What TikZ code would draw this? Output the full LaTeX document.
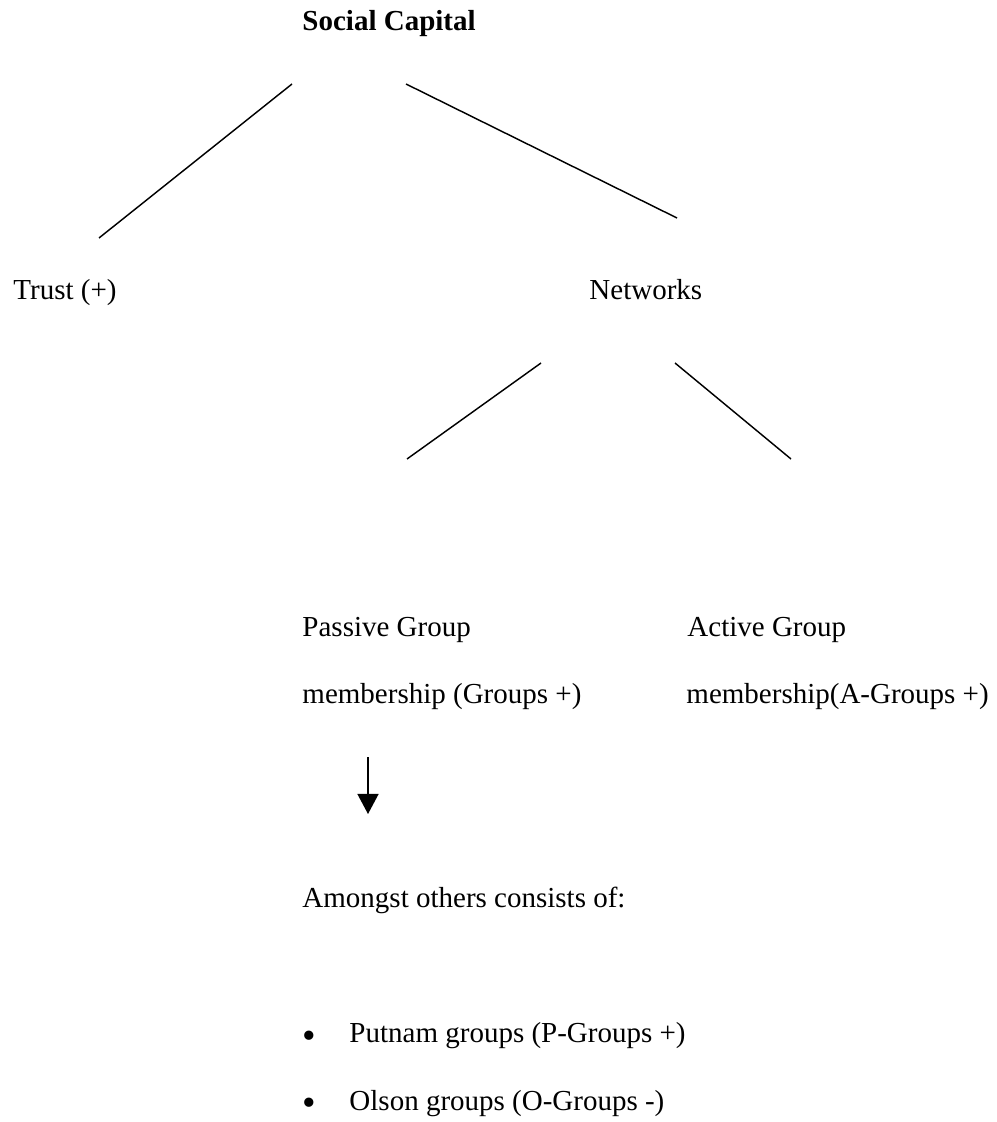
\documentclass[tikz,border=0pt]{standalone}
\usepackage{fontspec}
\setmainfont{Liberation Serif}
\usetikzlibrary{arrows.meta}
\tikzset{
    treeLabel/.style={anchor=base west, inner sep=0pt, font=\fontsize{12}{14}\selectfont},
    itemBullet/.style={anchor=base west, inner sep=0pt, font=\fontsize{16}{16}\selectfont},
    treeLine/.style={line width=0.6pt, black},
    flowArrow/.style={->, line width=0.6pt}
}
\begin{document}
\begin{tikzpicture}[x=0.4138pt, y=-0.4138pt, >={Triangle[length=8.3pt, width=8.7pt]}]

        % --- Page frame ---
        \useasboundingbox (0,0) rectangle (996,1122);

        % --- Labels ---
        \node[treeLabel, font=\fontsize{12}{14}\selectfont\bfseries] (capital) at (302,31) {Social Capital};
        \node[treeLabel] (trust) at (13,300) {Trust (+)};
        \node[treeLabel] (networks) at (589,300) {Networks};
        \node[treeLabel] (passive) at (302,636) {Passive Group};
        \node[treeLabel] (passiveMem) at (302,703) {membership (Groups +)};
        \node[treeLabel] (active) at (687,636) {Active Group};
        \node[treeLabel] (activeMem) at (686,703) {membership(A-Groups +)};
        \node[treeLabel] (amongst) at (302,907) {Amongst others consists of:};

        % --- Bullet list ---
        \node[itemBullet] (bulletP) at (302,1048) {\textbullet};
        \node[treeLabel] (putnam) at (349,1042) {Putnam groups (P-Groups +)};
        \node[itemBullet] (bulletO) at (302,1115) {\textbullet};
        \node[treeLabel] (olson) at (349,1110) {Olson groups (O-Groups -)};

        % --- Line ends ---
        \coordinate (capL) at (292,84);
        \coordinate (trustT) at (99,238);
        \coordinate (capR) at (406,84);
        \coordinate (netT) at (677,218);
        \coordinate (netL) at (541,363);
        \coordinate (passT) at (407,459);
        \coordinate (netR) at (675,363);
        \coordinate (actT) at (791,459);
        \coordinate (arrTop) at (368,757);
        \coordinate (arrTip) at (368,814);

        % --- Branches ---
        \draw[treeLine] (capL) -- (trustT);
        \draw[treeLine] (capR) -- (netT);
        \draw[treeLine] (netL) -- (passT);
        \draw[treeLine] (netR) -- (actT);

        % --- Arrow ---
        \draw[flowArrow] (arrTop) -- (arrTip);

    \end{tikzpicture}
\end{document}
